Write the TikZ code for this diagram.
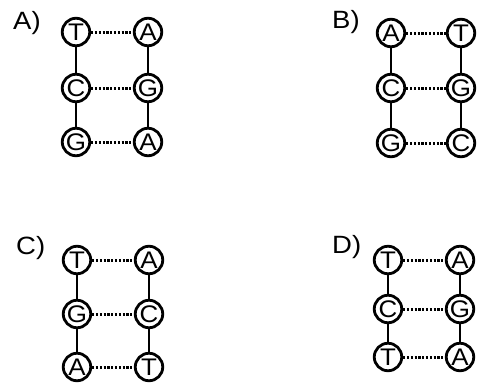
\documentclass[tikz,border=0pt]{standalone}
\usepackage{fontspec}
\setmainfont{Liberation Sans}
\newfontfamily\widesans[FakeStretch=1.08]{Liberation Sans}
\newfontfamily\labelsans[FakeStretch=1.1]{Liberation Sans}
\begin{document}
\begin{tikzpicture}[x=1pt,y=-1pt,
  base/.style={circle, draw, line width=2.8pt, minimum size=27.5pt, inner sep=0pt,
    font=\widesans\fontsize{24}{24}\selectfont},
  lbl/.style={anchor=base west, inner sep=0pt, font=\labelsans\fontsize{25}{25}\selectfont},
  bond/.style={line width=2.8pt},
  hbond/.style={line width=3pt, dash pattern=on 2.2pt off 1.6pt}]
\useasboundingbox (0,0) rectangle (479,386);
\fill[white] (0,0) rectangle (479,386);
% Panel A
\node[lbl] (la) at (13,29) {A)};
\node[base] (a1) at (76,32) {T};
\node[base] (a2) at (76,88) {C};
\node[base] (a3) at (76,142) {G};
\node[base] (a4) at (148,32) {A};
\node[base] (a5) at (148,88) {G};
\node[base] (a6) at (148,142) {A};
% Panel B
\node[lbl] (lb) at (332,28) {B)};
\node[base] (b1) at (391,33) {A};
\node[base] (b2) at (391,88) {C};
\node[base] (b3) at (391,143) {G};
\node[base] (b4) at (461,33) {T};
\node[base] (b5) at (461,88) {G};
\node[base] (b6) at (461,143) {C};
% Panel C
\node[lbl] (lc) at (16,254) {C)};
\node[base] (c1) at (77,260) {T};
\node[base] (c2) at (77,314) {G};
\node[base] (c3) at (77,367) {A};
\node[base] (c4) at (149,260) {A};
\node[base] (c5) at (149,314) {C};
\node[base] (c6) at (149,367) {T};
% Panel D
\node[lbl] (ld) at (332,253) {D)};
\node[base] (d1) at (388,260) {T};
\node[base] (d2) at (388,309) {C};
\node[base] (d3) at (388,357) {T};
\node[base] (d4) at (460,260) {A};
\node[base] (d5) at (460,309) {G};
\node[base] (d6) at (460,357) {A};
\foreach \p in {a,b,c,d}{
  \draw[bond] (\p1) -- (\p2);
  \draw[bond] (\p2) -- (\p3);
  \draw[bond] (\p4) -- (\p5);
  \draw[bond] (\p5) -- (\p6);
  \draw[hbond] (\p1) -- (\p4);
  \draw[hbond] (\p2) -- (\p5);
  \draw[hbond] (\p3) -- (\p6);
}
\end{tikzpicture}
\end{document}
